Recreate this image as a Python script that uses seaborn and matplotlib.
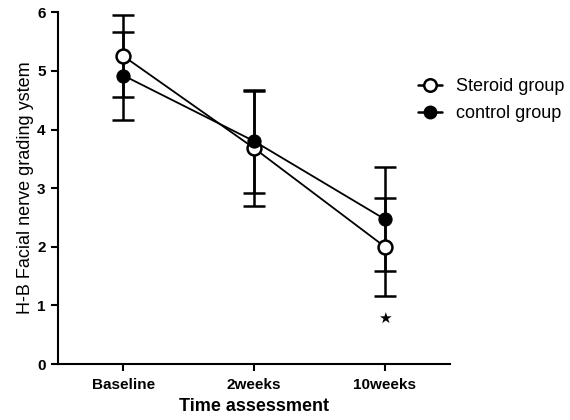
import matplotlib
matplotlib.use("Agg")
import matplotlib.pyplot as plt
import seaborn as sns
import pandas as pd
import numpy as np
from matplotlib.lines import Line2D

categories = ["Baseline", "2weeks", "10weeks"]
steroid_mean = [5.25, 3.68, 2.00]
steroid_err = [0.70, 0.98, 0.83]
control_mean = [4.92, 3.80, 2.47]
control_err = [0.75, 0.88, 0.89]
yticks = [0, 1, 2, 3, 4, 5, 6]
star_y = 0.78

sns.set_theme(style="ticks")
plt.rcParams['font.family'] = ['Liberation Sans', 'DejaVu Sans']
plt.rcParams['text.color'] = 'black'
plt.rcParams['axes.labelcolor'] = 'black'

df = pd.DataFrame({
    "pos": list(range(len(categories))) * 2,
    "score": steroid_mean + control_mean,
    "group": ["Steroid group"] * 3 + ["control group"] * 3,
})

fig = plt.figure(figsize=(5.7, 4.2), dpi=100)
ax = fig.add_axes([0.102, 0.133, 0.688, 0.838])

x = np.arange(len(categories))
ax.errorbar(x, steroid_mean, yerr=steroid_err, fmt="none", ecolor="black",
            elinewidth=1.8, capsize=8, capthick=1.8, zorder=2)
ax.errorbar(x, control_mean, yerr=control_err, fmt="none", ecolor="black",
            elinewidth=1.8, capsize=8, capthick=1.8, zorder=2)

sns.lineplot(data=df[df.group == "Steroid group"], x="pos", y="score", ax=ax,
             color="black", linewidth=1.3, marker="o", markersize=10,
             markerfacecolor="white", markeredgecolor="black", markeredgewidth=1.8,
             legend=False, zorder=3)
sns.lineplot(data=df[df.group == "control group"], x="pos", y="score", ax=ax,
             color="black", linewidth=1.3, marker="o", markersize=9.5,
             markerfacecolor="black", markeredgecolor="black",
             legend=False, zorder=3)

ax.text(2, star_y, "\u2605", ha="center", va="center", fontsize=11,
        family=['DejaVu Sans'], color="black")

ax.set_xlim(-0.5, 2.5)
ax.set_ylim(0, 6)
ax.set_yticks(yticks)
ax.set_xticks(x)
ax.set_xticklabels(categories, fontweight="bold", fontsize=11)
ax.set_yticklabels([str(t) for t in yticks], fontweight="bold", fontsize=11)
ax.set_xlabel("Time assessment", fontweight="bold", fontsize=13, labelpad=4)
ax.set_ylabel("H-B Facial nerve grading ystem", fontsize=13, labelpad=2)

for s in ["top", "right"]:
    ax.spines[s].set_visible(False)
for s in ["left", "bottom"]:
    ax.spines[s].set_linewidth(1.5)
    ax.spines[s].set_color("black")
ax.tick_params(axis="both", direction="out", length=5, width=1.5, colors="black",
               labelcolor="black", pad=4)
ax.tick_params(axis="x", pad=5)

handles = [
    Line2D([], [], color="black", linewidth=1.8, marker="o", markersize=9,
           markerfacecolor="white", markeredgecolor="black", markeredgewidth=1.8),
    Line2D([], [], color="black", linewidth=1.8, marker="o", markersize=9,
           markerfacecolor="black", markeredgecolor="black"),
]
fig.legend(handles, ["Steroid group", "control group"], loc="center left",
           bbox_to_anchor=(0.733, 0.762), frameon=False, fontsize=13,
           handlelength=1.33, handletextpad=0.8, labelspacing=0.55,
           borderpad=0, borderaxespad=0)

fig.savefig("out.png", dpi=100, facecolor="white")
